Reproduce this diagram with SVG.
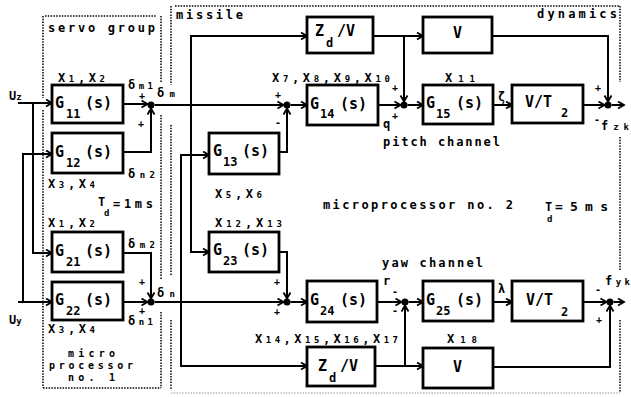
<svg xmlns="http://www.w3.org/2000/svg" width="631" height="397" viewBox="0 0 631 397">
<style>
.box{fill:#fff;stroke:#000;stroke-width:2.8}
.ln{fill:none;stroke:#000;stroke-width:2;marker-end:url(#ah)}
.dt{fill:none;stroke:#000;stroke-width:1.5;stroke-dasharray:1.5 1.3}
.jn{fill:#000}
.t{font-family:"DejaVu Sans Mono","Liberation Mono",monospace;font-weight:bold;font-size:12px;fill:#000}
.lb{font-family:"DejaVu Sans Mono","Liberation Mono",monospace;font-weight:bold;font-size:15px;fill:#000}
.sb{font-size:12px}
.s9{font-size:9px}
.s10{font-size:10px}
.sg{font-family:"DejaVu Sans Mono",monospace;font-weight:bold;font-size:10px;text-anchor:middle;fill:#000}
</style>
<defs>
<marker id="ah" markerWidth="9" markerHeight="9" refX="7" refY="4" orient="auto" markerUnits="userSpaceOnUse">
<path d="M1,0.5 L7,4 L1,7.5" fill="none" stroke="#000" stroke-width="1.8"/>
</marker>
</defs>
<rect width="631" height="397" fill="#fff"/>

<g id="frames">
<path class="dt" d="M45,16 H157"/>
<path class="dt" d="M43,16 V98 M43,110 V388"/>
<path class="dt" d="M161,16 V82 M161,115 V280 M161,312 V388"/>
<path class="dt" d="M43,388 H161"/>
<path class="dt" d="M175,6 H620"/>
<path class="dt" d="M171,6 V85 M171,125 V276 M171,320 V390"/>
<path class="dt" d="M620,6 V82 M620,137 V270 M620,320 V392"/>
<path class="dt" d="M171,393 H620" style="stroke:#999;stroke-width:1"/>
<text class="t" x="48" y="32" textLength="107">servo group</text>
<text class="t" x="176" y="19" textLength="67">missile</text>
<text class="t" x="537" y="18" textLength="80">dynamics</text>
<text class="t s10" x="68" y="357" textLength="47">micro</text>
<text class="t s10" x="49" y="369" textLength="84">processor</text>
<text class="t s10" x="68" y="381" textLength="47">no. 1</text>
<text class="t" x="383" y="146" textLength="117">pitch channel</text>
<text class="t" x="382" y="267" textLength="101">yaw channel</text>
<text class="t" x="323" y="209" textLength="190">microprocessor no. 2</text>
<text class="t" x="545" y="211">T</text><text class="t s9" x="547" y="222">d</text>
<text class="t" x="555" y="211" textLength="53" style="font-size:13px">=5ms</text>
<text class="t" x="98" y="206">T</text><text class="t s9" x="104" y="216">d</text>
<text class="t" x="113" y="208" textLength="40">=1ms</text>
</g>

<g id="connectors">
<path class="ln" d="M18,103 H52"/>
<path class="ln" d="M33,103 V253 H52"/>
<path class="ln" d="M18,302 H52"/>
<path class="ln" d="M23,302 V154 H52"/>
<path class="ln" d="M123,104 H147.5"/>
<path class="ln" d="M123,152 H151 V108.5"/>
<path class="ln" d="M154.5,105 H283.5"/>
<path class="ln" d="M191,105 V36 H307"/>
<path class="ln" d="M191,105 V252 H209"/>
<path class="ln" d="M279,152 H287 V108.5"/>
<path class="ln" d="M290.5,105 H307"/>
<path class="ln" d="M378,105 H400.5"/>
<path class="ln" d="M373,36 H423"/>
<path class="ln" d="M404,36 V101.5"/>
<path class="ln" d="M407.5,105 H423"/>
<path class="ln" d="M493,105 H512"/>
<path class="ln" d="M583,105 H604.5"/>
<path class="ln" d="M611.5,105 H624"/>
<path class="ln" d="M492,36 H608 V101.5"/>
<path class="ln" d="M123,253 H151 V298.5"/>
<path class="ln" d="M123,302 H147.5"/>
<path class="ln" d="M154.5,302 H283.5"/>
<path class="ln" d="M181,302 V155 H209"/>
<path class="ln" d="M181,302 V366 H307"/>
<path class="ln" d="M279,252 H287 V298.5"/>
<path class="ln" d="M290.5,302 H307"/>
<path class="ln" d="M377,302 H401.5"/>
<path class="ln" d="M408.5,302 H423"/>
<path class="ln" d="M493,302 H512"/>
<path class="ln" d="M583,302 H606.5"/>
<path class="ln" d="M613.5,302 H624"/>
<path class="ln" d="M375,366 H423"/>
<path class="ln" d="M405,366 V305.5"/>
<path class="ln" d="M493,367 H610 V305.5"/>
<circle class="jn" cx="151" cy="105" r="3.5"/>
<circle class="jn" cx="151" cy="302" r="3.5"/>
<circle class="jn" cx="287" cy="105" r="3.5"/>
<circle class="jn" cx="287" cy="302" r="3.5"/>
<circle class="jn" cx="404" cy="105" r="3.5"/>
<circle class="jn" cx="405" cy="302" r="3.5"/>
<circle class="jn" cx="608" cy="105" r="3.5"/>
<circle class="jn" cx="610" cy="302" r="3.5"/>
<text class="sg" x="142" y="99">+</text>
<text class="sg" x="141" y="127">+</text>
<text class="sg" x="142" y="285">+</text>
<text class="sg" x="142" y="314">+</text>
<text class="sg" x="278" y="98">+</text>
<text class="sg" x="278" y="126">-</text>
<text class="sg" x="277" y="285">+</text>
<text class="sg" x="277" y="315">+</text>
<text class="sg" x="395" y="91">+</text>
<text class="sg" x="395" y="119">+</text>
<text class="sg" x="395" y="295">-</text>
<text class="sg" x="395" y="314">-</text>
<text class="sg" x="598" y="91">+</text>
<text class="sg" x="597" y="123">-</text>
<text class="sg" x="598" y="293">-</text>
<text class="sg" x="599" y="323">+</text>
<text class="t" x="9" y="100">U<tspan class="s9">z</tspan></text>
<text class="t" x="9" y="324">U<tspan class="s9">y</tspan></text>
<text class="t" x="128" y="89" textLength="25">δ<tspan class="s9">m1</tspan></text>
<text class="t" x="157" y="97" textLength="18">δ<tspan class="s9">m</tspan></text>
<text class="t" x="128" y="178" textLength="27">δ<tspan class="s9">n2</tspan></text>
<text class="t" x="128" y="248" textLength="27">δ<tspan class="s9">m2</tspan></text>
<text class="t" x="157" y="297" textLength="18">δ<tspan class="s9">n</tspan></text>
<text class="t" x="128" y="325" textLength="25">δ<tspan class="s9">n1</tspan></text>
<text class="t" x="383" y="128">q</text>
<text class="t" x="383" y="285">r</text>
<text class="t" x="498" y="101">ζ</text>
<text class="t" x="498" y="293">λ</text>
<text class="t" x="601" y="130" textLength="28">f<tspan class="s9">zk</tspan></text>
<text class="t" x="605" y="285" textLength="25">f<tspan class="s9">yk</tspan></text>
</g>

<g id="G11"><rect class="box" x="52" y="85" width="71" height="38"/>
<text class="lb" x="55" y="108">G</text><text class="lb sb" x="66" y="118">11</text><text class="lb" x="85" y="108">(s)</text>
<text class="t" x="58" y="82" textLength="47">X<tspan class="s9">1</tspan>,X<tspan class="s9">2</tspan></text></g>
<g id="G12"><rect class="box" x="52" y="133" width="71" height="40"/>
<text class="lb" x="55" y="157">G</text><text class="lb sb" x="66" y="167">12</text><text class="lb" x="85" y="157">(s)</text>
<text class="t" x="48" y="188" textLength="47">X<tspan class="s9">3</tspan>,X<tspan class="s9">4</tspan></text></g>
<g id="G21"><rect class="box" x="52" y="232" width="71" height="40"/>
<text class="lb" x="55" y="256">G</text><text class="lb sb" x="66" y="266">21</text><text class="lb" x="85" y="256">(s)</text>
<text class="t" x="48" y="227" textLength="47">X<tspan class="s9">1</tspan>,X<tspan class="s9">2</tspan></text></g>
<g id="G22"><rect class="box" x="52" y="282" width="71" height="38"/>
<text class="lb" x="55" y="305">G</text><text class="lb sb" x="66" y="315">22</text><text class="lb" x="85" y="305">(s)</text>
<text class="t" x="48" y="333" textLength="47">X<tspan class="s9">3</tspan>,X<tspan class="s9">4</tspan></text></g>

<g id="G13"><rect class="box" x="209" y="133" width="70" height="41"/>
<text class="lb" x="213" y="156">G</text><text class="lb sb" x="223" y="166">13</text><text class="lb" x="242" y="156">(s)</text>
<text class="t" x="215" y="198" textLength="47">X<tspan class="s9">5</tspan>,X<tspan class="s9">6</tspan></text></g>
<g id="G23"><rect class="box" x="209" y="232" width="70" height="40"/>
<text class="lb" x="213" y="255">G</text><text class="lb sb" x="223" y="265">23</text><text class="lb" x="242" y="255">(s)</text>
<text class="t" x="215" y="227" textLength="67">X<tspan class="s9">12</tspan>,X<tspan class="s9">13</tspan></text></g>

<g id="ZdV1"><rect class="box" x="307" y="17" width="66" height="36"/>
<text class="lb" x="315" y="36">Z</text><text class="lb sb" x="326" y="47">d</text><text class="lb" x="337" y="36">/V</text></g>
<g id="G14"><rect class="box" x="307" y="85" width="71" height="40"/>
<text class="lb" x="310" y="109">G</text><text class="lb sb" x="320" y="118">14</text><text class="lb" x="340" y="109">(s)</text>
<text class="t" x="272" y="82" textLength="118">X<tspan class="s9">7</tspan>,X<tspan class="s9">8</tspan>,X<tspan class="s9">9</tspan>,X<tspan class="s9">10</tspan></text></g>
<g id="V1"><rect class="box" x="423" y="17" width="69" height="36"/>
<text class="lb" x="453" y="38">V</text></g>
<g id="G15"><rect class="box" x="423" y="85" width="70" height="39"/>
<text class="lb" x="426" y="108">G</text><text class="lb sb" x="436" y="118">15</text><text class="lb" x="456" y="108">(s)</text>
<text class="t" x="445" y="82" textLength="30">X<tspan class="s9">11</tspan></text></g>
<g id="VT1"><rect class="box" x="512" y="85" width="71" height="38"/>
<text class="lb" x="525" y="107">V/T</text><text class="lb sb" x="561" y="117">2</text></g>

<g id="G24"><rect class="box" x="307" y="281" width="70" height="41"/>
<text class="lb" x="310" y="305">G</text><text class="lb sb" x="320" y="315">24</text><text class="lb" x="340" y="305">(s)</text>
<text class="t" x="255" y="343" textLength="143">X<tspan class="s9">14</tspan>,X<tspan class="s9">15</tspan>,X<tspan class="s9">16</tspan>,X<tspan class="s9">17</tspan></text></g>
<g id="G25"><rect class="box" x="423" y="281" width="70" height="40"/>
<text class="lb" x="426" y="305">G</text><text class="lb sb" x="436" y="315">25</text><text class="lb" x="456" y="305">(s)</text></g>
<g id="VT2"><rect class="box" x="512" y="281" width="71" height="40"/>
<text class="lb" x="526" y="305">V/T</text><text class="lb sb" x="561" y="316">2</text></g>
<g id="ZdV2"><rect class="box" x="307" y="347" width="68" height="39"/>
<text class="lb" x="318" y="371">Z</text><text class="lb sb" x="329" y="382">d</text><text class="lb" x="340" y="371">/V</text></g>
<g id="V2"><rect class="box" x="423" y="348" width="70" height="40"/>
<text class="lb" x="453" y="372">V</text>
<text class="t" x="447" y="343" textLength="30">X<tspan class="s9">18</tspan></text></g>
</svg>
